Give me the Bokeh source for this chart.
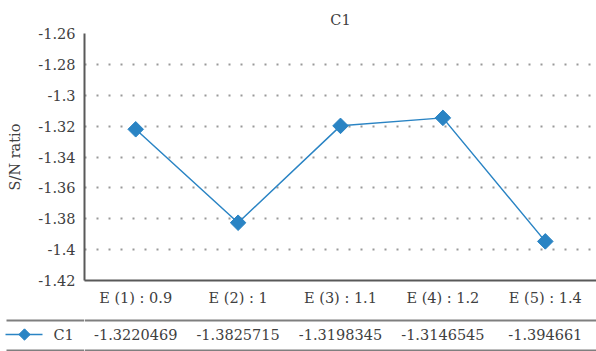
import math
from bokeh.plotting import figure
from bokeh.layouts import column, row
from bokeh.models import (ColumnDataSource, FactorRange, Range1d, FixedTicker,
                          NumeralTickFormatter, Span)
from bokeh.core.properties import value
from bokeh.embed import file_html
from bokeh.resources import INLINE

# Levels of factor E and the S/N ratio of response C1 at each level
levels = ["E (1) : 0.9", "E (2) : 1", "E (3) : 1.1", "E (4) : 1.2", "E (5) : 1.4"]
sn_c1 = [-1.3220469, -1.3825715, -1.3198345, -1.3146545, -1.394661]
y_ticks = [-1.42, -1.40, -1.38, -1.36, -1.34, -1.32, -1.30, -1.28, -1.26]
series_name = "C1"

FONT = "DejaVu Serif"
TEXT = "#404040"
BLUE = "#2a84c4"
AXIS = "#595959"
RULE = "#7f7f7f"
FS = "14.5px"

src = ColumnDataSource(data=dict(level=levels, sn=sn_c1,
                                 label=[str(v) for v in sn_c1]))

# ---- main line chart ----
p = figure(width=596, height=317, x_range=FactorRange(*levels),
           y_range=Range1d(y_ticks[0], y_ticks[-1]),
           output_backend="svg", toolbar_location=None,
           min_border_left=84, min_border_right=0, min_border_top=33,
           min_border_bottom=37, title=series_name)
p.outline_line_color = None
p.background_fill_color = "white"
p.border_fill_color = "white"

p.title.align = "center"
p.title.vertical_align = "middle"
p.title.text_font = FONT
p.title.text_font_size = FS
p.title.text_font_style = "normal"
p.title.text_color = TEXT

p.yaxis.ticker = FixedTicker(ticks=y_ticks)
p.yaxis.formatter = NumeralTickFormatter(format="0.[00]")
p.yaxis.axis_label = "S/N ratio"
for ax in (p.xaxis[0], p.yaxis[0]):
    ax.major_tick_line_color = None
    ax.minor_tick_line_color = None
    ax.major_tick_out = 0
    ax.minor_tick_out = 0
    ax.axis_line_color = AXIS
    ax.axis_line_width = 2
    ax.major_label_text_font = FONT
    ax.major_label_text_font_size = FS
    ax.major_label_text_color = TEXT
    ax.axis_label_text_font = FONT
    ax.axis_label_text_font_size = FS
    ax.axis_label_text_font_style = "normal"
    ax.axis_label_text_color = TEXT
p.xaxis.major_label_standoff = 9
p.yaxis.major_label_standoff = 9
p.yaxis.axis_label_standoff = 12

p.xgrid.grid_line_color = None
p.ygrid.grid_line_color = "#999999"
p.ygrid.grid_line_width = 2
p.ygrid.grid_line_dash = "2 10"

p.line("level", "sn", source=src, line_color=BLUE, line_width=1.5)
p.scatter("level", "sn", source=src, marker="square", size=11,
          angle=math.pi / 4, fill_color=BLUE, line_color=BLUE)

# ---- data table row under the chart ----
TH = 34
legend_cell = figure(width=84, height=TH, x_range=Range1d(0, 84),
                     y_range=Range1d(0, TH), output_backend="svg",
                     toolbar_location=None, min_border=0)
table_cell = figure(width=512, height=TH, x_range=FactorRange(*levels),
                    y_range=Range1d(0, TH), output_backend="svg",
                    toolbar_location=None, min_border=0)
for f in (legend_cell, table_cell):
    f.axis.visible = False
    f.grid.visible = False
    f.outline_line_color = None
    f.background_fill_color = "white"
    f.border_fill_color = "white"

# horizontal rules above and below the row
legend_cell.segment(x0=[6, 6], y0=[31, 1], x1=[84, 84], y1=[31, 1],
                    line_color=RULE, line_width=2)
for yy in (31, 1):
    table_cell.add_layout(Span(location=yy, dimension="width",
                               line_color=RULE, line_width=2))

# legend key
legend_cell.segment(x0=[5], y0=[17], x1=[42], y1=[17], line_color=BLUE,
                    line_width=1.5)
legend_cell.scatter(x=[24], y=[17], marker="square", size=8,
                    angle=math.pi / 4, fill_color=BLUE, line_color=BLUE)
legend_cell.text(x=[53], y=[17], text=[series_name], text_font=value(FONT),
                 text_font_size=FS, text_color=TEXT, text_baseline="middle")

table_cell.text(x="level", y=17, text="label", source=src,
                text_font=value(FONT), text_font_size=FS, text_color=TEXT,
                text_align="center", text_baseline="middle")

layout = column(p, row(legend_cell, table_cell, spacing=0), spacing=0)
open("out.html", "w").write(file_html(layout, INLINE))
